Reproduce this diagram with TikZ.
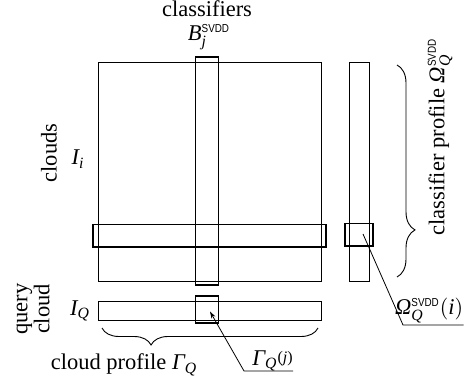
\documentclass[tikz,border=0pt]{standalone}
\usepackage{amsmath}
\usepackage{graphicx}
\usepackage{fontspec}
\setmainfont{Liberation Serif}
\setsansfont{Liberation Sans}
\usetikzlibrary{decorations.pathreplacing,arrows.meta}
\newcommand{\svdd}{\mbox{\scalebox{0.85}[1]{\fontsize{5.8}{6}\sffamily SVDD}}}
\begin{document}
\begin{tikzpicture}[x=0.5pt,y=-0.5pt,
  font=\fontsize{11.25}{13}\selectfont,
  thinbox/.style={draw, line width=0.45pt},
  bandbox/.style={draw, line width=0.9pt},
  leader/.style={line width=0.4pt},
  lbl/.style={inner sep=0pt},
  bracedown/.style={decorate, line width=0.45pt,
    decoration={brace, amplitude=8.5pt, aspect=0.773}},
  braceright/.style={decorate, line width=0.45pt,
    decoration={brace, amplitude=9pt, aspect=0.778}}]
\useasboundingbox (0,0) rectangle (464,383);

% thin rectangles
\draw[thinbox] (98,62) coordinate (mainNW) rectangle (321,281) coordinate (mainSE);
\draw[thinbox] (349,62) coordinate (rcolNW) rectangle (369,281) coordinate (rcolSE);
\draw[thinbox] (98,301) coordinate (qrowNW) rectangle (321,320) coordinate (qrowSE);

% bands
\draw[bandbox] (195.5,57) coordinate (colNW) rectangle (218.5,285) coordinate (colSE);
\draw[bandbox] (93,224.5) coordinate (rowNW) rectangle (326,247) coordinate (rowSE);
\draw[bandbox] (345,223.5) coordinate (rcellNW) rectangle (373,246) coordinate (rcellSE);
\draw[bandbox] (195.5,296) coordinate (qcellNW) rectangle (218.5,323) coordinate (qcellSE);

% labels
\node[lbl, anchor=base] (cls) at (207,17) {classifiers};
\node[lbl] (bj) at (209,37) {$\textit{B}^{\svdd}_{\textit{j}}$};
\node[lbl, rotate=90] (clouds) at (49,153) {clouds};
\node[lbl] (ii) at (78,159) {$\textit{I}_{\textit{i}}$};
\node[lbl, rotate=90, align=center, font=\fontsize{11.25}{11}\selectfont] (qc) at (33,309) {query\\cloud};
\node[lbl] (iq) at (80,311) {$\textit{I}_{\textit{Q}}$};
\node[lbl, anchor=base] (cp) at (124,370) {cloud profile $\textit{Γ}_{\textit{Q}}$};
\node[lbl, anchor=base west] (gq) at (252,365) {$\textit{Γ}_{\textit{Q}}$\raisebox{0.2ex}{\fontsize{8}{9}\selectfont(\textit{j})}};
\node[lbl, anchor=base east] (om) at (463.5,315) {$\textit{Ω}^{\svdd}_{\textit{Q}}(\textit{i})$};
\node[lbl, rotate=90] (clp) at (440,137) {classifier profile $\textit{Ω}^{\svdd}_{\textit{Q}}$};

% braces
\draw[bracedown] (318,328) coordinate (bbR) -- (102,328) coordinate (bbL);
\draw[braceright] (397,65) coordinate (rbT) -- (397,277) coordinate (rbB);

% leaders
\coordinate (dotQ) at (210,311.5);
\coordinate (kneeG) at (244,371);
\draw[leader, {Stealth[length=3.5pt,width=2.2pt]}-] (dotQ) -- (kneeG) -- (kneeG -| gq.east);
\coordinate (dotR) at (363,234);
\coordinate (kneeO) at (403,325);
\draw[leader] (dotR) -- (kneeO) -- (kneeO -| om.east);
\end{tikzpicture}
\end{document}
